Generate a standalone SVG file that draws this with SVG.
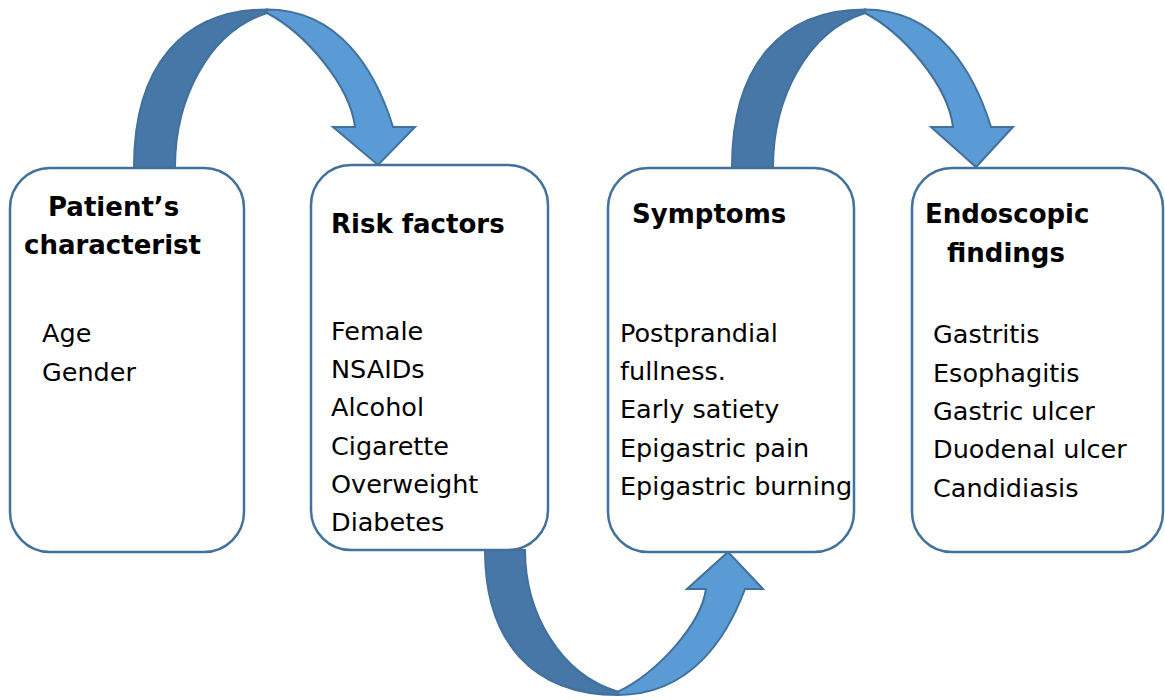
<svg xmlns="http://www.w3.org/2000/svg" width="1165" height="700" viewBox="0 0 1165 700">
<style>
.dark{fill:#4677A6;stroke:#41719C;stroke-width:2;stroke-linejoin:miter}
.light{fill:#5B9BD5;stroke:#41719C;stroke-width:2;stroke-linejoin:miter}
.box{fill:#fff;stroke:#41719C;stroke-width:2.5}
.h{font-family:"DejaVu Sans",Verdana,sans-serif;font-weight:bold;font-size:26px;fill:#000}
.t{font-family:"DejaVu Sans",Verdana,sans-serif;font-size:25.5px;fill:#000}
</style>
<g id="connectors">
  <g id="arrow1">
    <path class="dark" d="M134,167 C134,67 182,9.5 267,9.5 L267,13 C208,32 175,100 175,167 Z"/>
    <path class="light" d="M267,9.5 C340,9.5 376,72 393,127 L415,127 L378,165 L333,127 L355,127 C350,85 305,33 267,13 Z"/>
  </g>
  <g id="arrow2">
    <path class="dark" d="M732,167 C732,67 780,9.5 865,9.5 L865,13 C806,32 773,100 773,167 Z"/>
    <path class="light" d="M865,9.5 C938,9.5 974,72 991,127 L1013,127 L976,167 L931,127 L953,127 C948,85 903,33 865,13 Z"/>
  </g>
  <g id="arrow3">
    <path class="dark" d="M485,550 C485,642 533,694.9 618,694.9 L618,691.7 C559,674.2 525,611.6 525,550 Z"/>
    <path class="light" d="M618,694.9 C691,694.9 727,637.4 745,589 L763,589 L728,552 L687,589 L706,589 C701,625.4 656,673.3 618,691.7 Z"/>
  </g>
</g>
<g id="node1">
  <rect class="box" x="10" y="168" width="234" height="384" rx="40"/>
  <text class="h" x="48" y="216">Patient’s</text>
  <text class="h" x="24" y="254">characterist</text>
  <text class="t" x="42" y="342">Age</text>
  <text class="t" x="42" y="381">Gender</text>
</g>
<g id="node2">
  <rect class="box" x="311" y="165" width="237" height="385" rx="40"/>
  <text class="h" x="331" y="233">Risk factors</text>
  <text class="t" x="331" y="340">Female</text>
  <text class="t" x="331" y="378">NSAIDs</text>
  <text class="t" x="331" y="416">Alcohol</text>
  <text class="t" x="331" y="455">Cigarette</text>
  <text class="t" x="331" y="493">Overweight</text>
  <text class="t" x="331" y="531">Diabetes</text>
</g>
<g id="node3">
  <rect class="box" x="608" y="168" width="246" height="384" rx="40"/>
  <text class="h" x="632" y="223">Symptoms</text>
  <text class="t" x="620" y="342">Postprandial</text>
  <text class="t" x="620" y="380">fullness.</text>
  <text class="t" x="620" y="418">Early satiety</text>
  <text class="t" x="620" y="457">Epigastric pain</text>
  <text class="t" x="620" y="495">Epigastric burning</text>
</g>
<g id="node4">
  <rect class="box" x="912" y="168" width="251" height="384" rx="40"/>
  <text class="h" x="925" y="223">Endoscopic</text>
  <text class="h" x="947" y="262">findings</text>
  <text class="t" x="933" y="343">Gastritis</text>
  <text class="t" x="933" y="382">Esophagitis</text>
  <text class="t" x="933" y="420">Gastric ulcer</text>
  <text class="t" x="933" y="458">Duodenal ulcer</text>
  <text class="t" x="933" y="497">Candidiasis</text>
</g>
</svg>
